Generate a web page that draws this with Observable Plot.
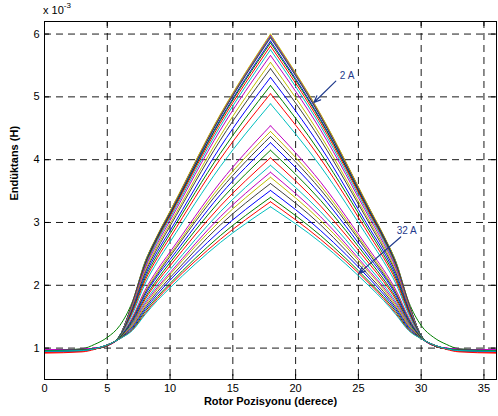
<!DOCTYPE html>
<html><head><meta charset="utf-8">
<script src="https://cdn.jsdelivr.net/npm/d3@7"></script>
<script src="https://cdn.jsdelivr.net/npm/@observablehq/plot@0.6"></script>
<style>
body{margin:0;background:#fff;}
#wrap{position:relative;width:498px;height:416px;font-family:"Liberation Sans",Arial,sans-serif;}
#exp{position:absolute;left:43px;top:4px;font-size:11px;line-height:13px;color:#000;}
#exp sup{font-size:8px;vertical-align:0;position:relative;top:-6px;}
</style></head><body><div id="wrap"><div id="exp">x 10<sup>-3</sup></div></div>
<script>
// Rotor position (degrees) of the sampled points on the rising half; falling half mirrors about 18°
const rotorPos = [0, 3, 4, 5, 6, 7, 8, 9, 10, 14, 18];
// Phase currents (A), one curve each
const currents = [1,2,3,4,5,6,7,8,9,10,11,12,13,14,15,16,17,18,19,20,21,22,23,24,25,26,27,28,29,30,31,32];
// Inductance (x10^-3 H) per current at rotorPos
const inductance = [
  [0.96, 0.97, 0.99, 1.04, 1.20, 1.72, 2.35, 2.79, 3.17, 4.70, 5.97],
  [0.96, 0.99, 1.06, 1.17, 1.36, 1.74, 2.37, 2.79, 3.17, 4.70, 5.97],
  [0.95, 0.96, 0.99, 1.04, 1.20, 1.71, 2.35, 2.78, 3.16, 4.69, 5.96],
  [0.96, 0.97, 0.99, 1.04, 1.20, 1.71, 2.35, 2.78, 3.16, 4.69, 5.96],
  [0.97, 0.98, 1.00, 1.04, 1.20, 1.72, 2.35, 2.79, 3.17, 4.71, 5.98],
  [0.96, 0.97, 0.99, 1.04, 1.20, 1.72, 2.36, 2.80, 3.18, 4.72, 6.00],
  [0.96, 0.97, 0.99, 1.04, 1.20, 1.71, 2.34, 2.78, 3.15, 4.68, 5.94],
  [0.96, 0.97, 0.99, 1.04, 1.20, 1.70, 2.33, 2.76, 3.13, 4.64, 5.89],
  [0.96, 0.97, 0.99, 1.04, 1.20, 1.70, 2.32, 2.75, 3.12, 4.62, 5.86],
  [0.95, 0.96, 0.99, 1.04, 1.20, 1.69, 2.30, 2.73, 3.10, 4.58, 5.81],
  [0.96, 0.97, 0.99, 1.04, 1.20, 1.68, 2.28, 2.71, 3.07, 4.53, 5.75],
  [0.97, 0.98, 1.00, 1.04, 1.19, 1.67, 2.26, 2.67, 3.03, 4.47, 5.66],
  [0.96, 0.97, 0.99, 1.04, 1.19, 1.65, 2.22, 2.63, 2.98, 4.38, 5.55],
  [0.96, 0.97, 0.99, 1.04, 1.19, 1.63, 2.19, 2.59, 2.94, 4.31, 5.45],
  [0.96, 0.97, 0.99, 1.04, 1.19, 1.61, 2.15, 2.54, 2.87, 4.20, 5.31],
  [0.96, 0.97, 0.99, 1.04, 1.19, 1.59, 2.11, 2.49, 2.82, 4.10, 5.18],
  [0.95, 0.96, 0.99, 1.04, 1.18, 1.57, 2.07, 2.44, 2.76, 4.01, 5.05],
  [0.96, 0.97, 0.99, 1.04, 1.18, 1.54, 2.02, 2.38, 2.69, 3.89, 4.89],
  [0.97, 0.98, 1.00, 1.04, 1.17, 1.49, 1.92, 2.25, 2.53, 3.64, 4.54],
  [0.96, 0.97, 0.99, 1.04, 1.17, 1.47, 1.89, 2.21, 2.49, 3.58, 4.45],
  [0.96, 0.97, 0.99, 1.04, 1.17, 1.46, 1.87, 2.18, 2.46, 3.52, 4.37],
  [0.96, 0.97, 0.99, 1.04, 1.17, 1.44, 1.84, 2.15, 2.41, 3.44, 4.27],
  [0.96, 0.97, 0.99, 1.04, 1.17, 1.42, 1.80, 2.10, 2.36, 3.35, 4.15],
  [0.93, 0.95, 0.99, 1.04, 1.16, 1.40, 1.77, 2.06, 2.31, 3.26, 4.03],
  [0.95, 0.96, 0.99, 1.05, 1.16, 1.39, 1.73, 2.01, 2.25, 3.17, 3.91],
  [0.96, 0.97, 0.99, 1.05, 1.16, 1.37, 1.70, 1.97, 2.20, 3.09, 3.80],
  [0.95, 0.96, 0.99, 1.05, 1.16, 1.36, 1.67, 1.94, 2.17, 3.03, 3.72],
  [0.95, 0.96, 0.99, 1.05, 1.16, 1.34, 1.64, 1.90, 2.12, 2.96, 3.62],
  [0.95, 0.96, 0.99, 1.05, 1.15, 1.32, 1.61, 1.86, 2.08, 2.87, 3.51],
  [0.96, 0.97, 0.99, 1.05, 1.15, 1.30, 1.58, 1.82, 2.03, 2.79, 3.40],
  [0.92, 0.94, 0.98, 1.05, 1.15, 1.29, 1.55, 1.79, 2.00, 2.73, 3.33],
  [0.95, 0.96, 0.99, 1.05, 1.15, 1.28, 1.53, 1.76, 1.96, 2.68, 3.25]
];
// MATLAB default colour order
const colorOrder = ["#0000ff", "#008000", "#ff0000", "#00bfbf", "#bf00bf", "#bfbf00", "#404040"];
const xTicks = [0, 5, 10, 15, 20, 25, 30, 35];
const yTicks = [1, 2, 3, 4, 5, 6];
const annotations = [
  {label: "2 A", tx: 24.1, ty: 5.34, x1: 23.2, y1: 5.25, x2: 21.46, y2: 4.91},
  {label: "32 A", tx: 28.85, ty: 2.86, x1: 28.37, y1: 2.77, x2: 25.04, y2: 2.19}
];

const period = 36;
const curves = inductance.map((row, i) => {
  const rise = rotorPos.map((x, j) => ({x, y: row[j]}));
  const fall = rotorPos.map((x, j) => ({x: period - x, y: row[j]}));
  return {current: currents[i], color: colorOrder[i % colorOrder.length], rise, fall};
});

const navy = "#1f3a8c";
const chart = Plot.plot({
  width: 498, height: 416,
  marginLeft: 44, marginTop: 21, marginRight: 2, marginBottom: 37,
  style: {fontFamily: "'Liberation Sans', Arial, sans-serif", fontSize: "11px", background: "#fff", color: "#000"},
  x: {domain: [0, 36], ticks: xTicks, tickSize: 0, tickPadding: 5, label: null, tickFormat: "d"},
  y: {domain: [0.5, 6.2], ticks: yTicks, tickSize: 0, tickPadding: 5, label: null, tickFormat: "d"},
  marks: [
    Plot.ruleX(xTicks.slice(1), {stroke: "#000", strokeWidth: 0.9, strokeDasharray: "7,5"}),
    Plot.ruleY(yTicks, {stroke: "#000", strokeWidth: 0.9, strokeDasharray: "7,5"}),
    ...curves.flatMap(c => [
      Plot.line(c.rise, {x: "x", y: "y", stroke: c.color, strokeWidth: 1, curve: "monotone-x"}),
      Plot.line(c.fall, {x: "x", y: "y", stroke: c.color, strokeWidth: 1, curve: "monotone-x"})
    ]),
    Plot.ruleY(yTicks, {y: d => d, x1: 0, x2: 0.4, stroke: "#000"}),
    Plot.ruleY(yTicks, {y: d => d, x1: 35.6, x2: 36, stroke: "#000"}),
    Plot.ruleX(xTicks, {x: d => d, y1: 0.5, y2: 0.58, stroke: "#000"}),
    Plot.ruleX(xTicks, {x: d => d, y1: 6.12, y2: 6.2, stroke: "#000"}),
    Plot.frame({stroke: "#000", strokeWidth: 1}),
    Plot.arrow(annotations, {x1: "x1", y1: "y1", x2: "x2", y2: "y2", stroke: navy, strokeWidth: 1.2, headLength: 9, headAngle: 45}),
    Plot.text(annotations, {x: "tx", y: "ty", text: "label", fill: navy, fontSize: 10}),
    Plot.text(["Rotor Pozisyonu (derece)"], {frameAnchor: "bottom", dy: 25, text: d => d, fontWeight: "bold", fontSize: 11}),
    Plot.text(["Endüktans (H)"], {frameAnchor: "left", dx: -30, rotate: -90, text: d => d, fontWeight: "bold", fontSize: 11})
  ]
});
document.getElementById("wrap").prepend(chart);
</script>
</body></html>
